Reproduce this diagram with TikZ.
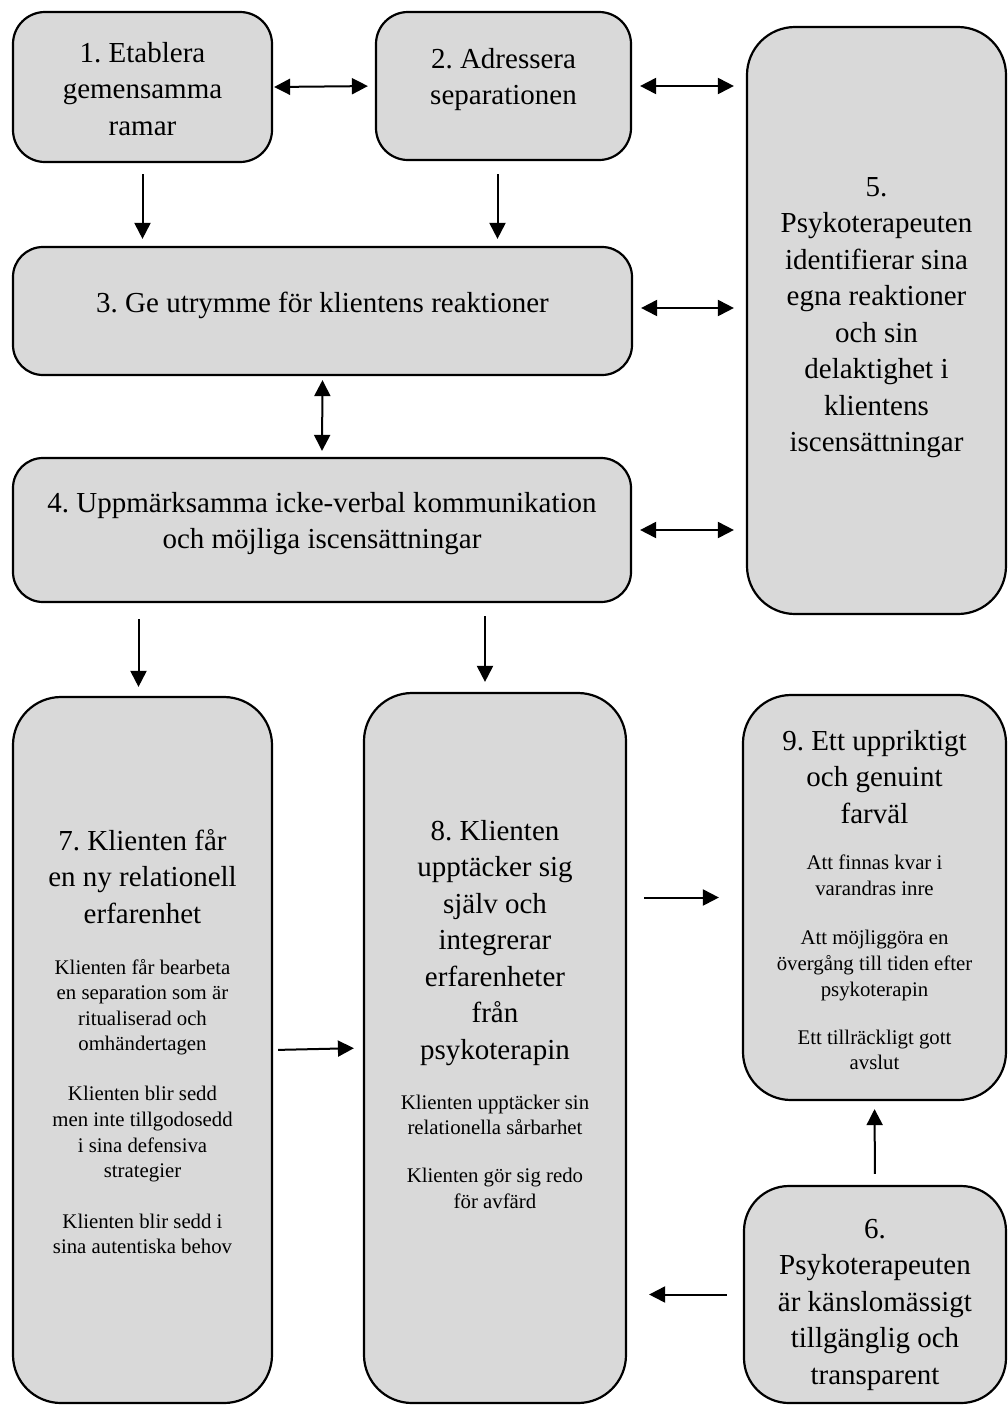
\documentclass[tikz,border=0pt]{standalone}
\usepackage{fontspec}
\setmainfont{Liberation Serif}
\usetikzlibrary{arrows.meta}
\definecolor{boxgray}{HTML}{D9D9D9}
\frenchspacing
\newcommand\txtL{\fontsize{29}{36.5}\selectfont}
\newcommand\txtS{\fontsize{20.8}{25.6}\selectfont}
\tikzset{
  box/.style={draw=black, fill=boxgray, line width=2.2pt, rectangle, inner sep=0pt},
  txt/.style={anchor=base, align=flush center, inner sep=0pt, font=\txtL},
  arr/.style={line width=2pt, -{Triangle[length=16pt,width=16pt]}},
  arrb/.style={line width=2pt, {Triangle[length=16pt,width=16pt]}-{Triangle[length=16pt,width=16pt]}}
}
\begin{document}
\begin{tikzpicture}[x=1pt,y=-1pt]
\useasboundingbox (0,0) rectangle (1008,1406);
% boxes
\node[box, rounded corners=32pt, minimum width=259pt, minimum height=150pt] (b1) at (142.5,87) {};
\node[box, rounded corners=32pt, minimum width=255pt, minimum height=148pt] (b2) at (503.5,86) {};
\node[box, rounded corners=48pt, minimum width=259pt, minimum height=587pt] (b5) at (876.5,320.5) {};
\node[box, rounded corners=30pt, minimum width=619pt, minimum height=128pt] (b3) at (322.5,311) {};
\node[box, rounded corners=30pt, minimum width=618pt, minimum height=144pt] (b4) at (322,530) {};
\node[box, rounded corners=48pt, minimum width=259pt, minimum height=706pt] (b7) at (142.5,1050) {};
\node[box, rounded corners=48pt, minimum width=262pt, minimum height=710pt] (b8) at (495,1048) {};
\node[box, rounded corners=48pt, minimum width=263pt, minimum height=405pt] (b9) at (874.5,897.5) {};
\node[box, rounded corners=45pt, minimum width=262pt, minimum height=217pt] (b6) at (875,1294.5) {};
% texts
\node[txt, text width=250pt] (t1) at (142.5,62) {1. Etablera\\ gemensamma\\ ramar};
\node[txt, text width=250pt] (t2) at (503.5,68) {2. Adressera\\ separationen};
\node[txt, text width=600pt] (t3) at (322.5,312) {3. Ge utrymme för klientens reaktioner};
\node[txt, text width=600pt] (t4) at (322,512) {4. Uppmärksamma icke-verbal kommunikation\\ och möjliga iscensättningar};
\node[txt, text width=250pt] (t5) at (876.5,196) {5.\\ Psykoterapeuten\\ identifierar sina\\ egna reaktioner\\ och sin\\ delaktighet i\\ klientens\\ iscensättningar};
\node[txt, text width=250pt] (t6) at (875,1238) {6.\\ Psykoterapeuten\\ är känslomässigt\\ tillgänglig och\\ transparent};
\node[txt, text width=250pt] (t7) at (142.5,850) {7. Klienten får\\ en ny relationell\\ erfarenhet\par
  \vspace{25.4pt}\txtS Klienten får bearbeta\\ en separation som är\\ ritualiserad och\\ omhändertagen\par
  \vspace{24.5pt}Klienten blir sedd\\ men inte tillgodosedd\\ i sina defensiva\\ strategier\par
  \vspace{25pt}Klienten blir sedd i\\ sina autentiska behov\par};
\node[txt, text width=255pt] (t8) at (495,840) {8. Klienten\\ upptäcker sig\\ själv och\\ integrerar\\ erfarenheter\\ från\\ psykoterapin\par
  \vspace{24.4pt}\txtS Klienten upptäcker sin\\ relationella sårbarhet\par
  \vspace{22.4pt}Klienten gör sig redo\\ för avfärd\par};
\node[txt, text width=255pt] (t9) at (874.5,750) {9. Ett uppriktigt\\ och genuint\\ farväl\par
  \vspace{21pt}\txtS Att finnas kvar i\\ varandras inre\par
  \vspace{24pt}Att möjliggöra en\\ övergång till tiden efter\\ psykoterapin\par
  \vspace{22.5pt}Ett tillräckligt gott\\ avslut\par};
% connectors
\draw[arrb, shorten <=1pt, shorten >=7pt] (b1.east) -- (b2.west);
\draw[arrb, shorten <=8pt, shorten >=12pt] (b2.east) -- (b2.east -| b5.west);
\draw[arr, shorten <=11pt, shorten >=7pt] (b1.south) -- (b1.south |- b3.north);
\draw[arr, shorten <=13pt, shorten >=7pt] ([xshift=-6pt]b2.south) -- ([xshift=-6pt]b2.south |- b3.north);
\draw[arrb, shorten <=8pt, shorten >=12pt] ([yshift=3pt]b3.east) -- ([yshift=3pt]b3.east -| b5.west);
\draw[arrb, shorten <=4pt, shorten >=6pt] (b3.south) -- (b4.north);
\draw[arrb, shorten <=8pt, shorten >=12pt] (b4.east) -- (b4.east -| b5.west);
\draw[arr, shorten <=16pt, shorten >=9pt] ([xshift=-4pt]b7.north |- b4.south) -- ([xshift=-4pt]b7.north);
\draw[arr, shorten <=13pt, shorten >=10pt] ([xshift=-10pt]b8.north |- b4.south) -- ([xshift=-10pt]b8.north);
\draw[arr, shorten <=5pt, shorten >=9pt] (b7.east) -- (b8.west);
\draw[arr, shorten <=17pt, shorten >=23pt] (b9.west -| b8.east) -- (b9.west);
\draw[arr, shorten <=11pt, shorten >=8pt] (b6.north) -- (b9.south);
\draw[arr, shorten <=16pt, shorten >=22pt] (b6.west) -- (b6.west -| b8.east);
\end{tikzpicture}
\end{document}
